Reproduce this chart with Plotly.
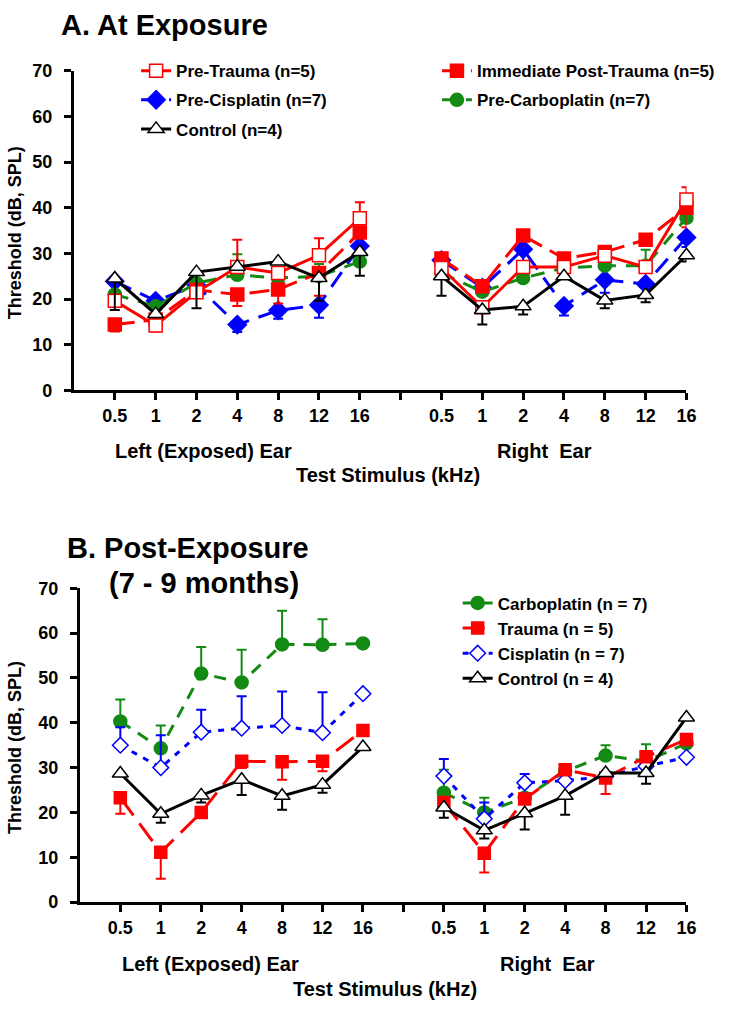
import plotly.graph_objects as go

# ---------------- data ----------------
freq_labels = ["0.5", "1", "2", "4", "8", "12", "16"]

# Panel A: At Exposure  (left ear values, right ear values)
a_pre_trauma_L = [19.6, 14.2, 21.5, 27.0, 25.7, 29.6, 37.7]
a_pre_trauma_R = [26.8, 18.2, 27.0, 27.0, 29.5, 27.0, 41.8]
a_pre_trauma_up_L = [0, 0, 0, 6.0, 0, 3.7, 3.5]
a_pre_trauma_up_R = [0, 0, 0, 0, 0, 0, 2.7]
a_pre_trauma_dn_L = [0, 0, 0, 0, 0, 0, 0]
a_pre_trauma_dn_R = [0, 0, 0, 0, 0, 0, 0]

a_imm_post_L = [14.4, 15.5, 22.0, 21.0, 22.1, 25.7, 34.6]
a_imm_post_R = [28.9, 22.8, 33.9, 28.9, 30.3, 33.0, 40.0]
a_imm_post_up_L = [0, 0, 0, 0, 0, 0, 0]
a_imm_post_up_R = [0, 0, 0, 0, 0, 0, 0]
a_imm_post_dn_L = [1.5, 2.6, 0, 2.5, 3.1, 5.0, 0]
a_imm_post_dn_R = [0, 0, 0, 0, 0, 0, 4.3]

a_pre_cis_L = [23.9, 19.6, 23.0, 14.4, 17.5, 18.7, 31.6]
a_pre_cis_R = [28.5, 22.5, 30.9, 18.5, 24.2, 23.3, 33.5]
a_pre_cis_up_L = [0, 0, 0, 0, 0, 0, 0]
a_pre_cis_up_R = [0, 0, 0, 0, 0, 0, 0]
a_pre_cis_dn_L = [0, 0, 0, 1.6, 1.8, 2.8, 0]
a_pre_cis_dn_R = [0, 0, 4.1, 2.1, 2.8, 0, 2.1]

a_pre_carbo_L = [21.0, 18.4, 23.5, 25.3, 24.6, 25.0, 28.2]
a_pre_carbo_R = [25.7, 21.6, 24.6, 26.8, 27.3, 27.3, 37.8]
a_pre_carbo_up_L = [0, 0, 0, 4.5, 0, 2.7, 0]
a_pre_carbo_up_R = [0, 0, 0, 0, 0, 3.5, 0]
a_pre_carbo_dn_L = [0, 0, 0, 0, 0, 0, 0]
a_pre_carbo_dn_R = [0, 0, 0, 0, 0, 0, 0]

a_control_L = [24.5, 16.7, 25.9, 27.1, 28.2, 24.6, 30.3]
a_control_R = [25.0, 17.6, 18.4, 25.0, 19.7, 20.9, 29.6]
a_control_up_L = [0, 0, 0, 0, 0, 0, 0]
a_control_up_R = [0, 0, 0, 0, 0, 0, 0]
a_control_dn_L = [6.9, 0, 7.9, 0, 0, 5.0, 5.2]
a_control_dn_R = [4.3, 3.2, 1.8, 0, 1.7, 1.6, 1.4]

# Panel B: Post-Exposure (7 - 9 months)
b_carbo_L = [40.3, 34.3, 51.0, 49.0, 57.5, 57.4, 57.7]
b_carbo_R = [24.4, 20.0, 23.3, 29.2, 32.7, 31.4, 35.4]
b_carbo_up_L = [4.9, 5.1, 5.9, 7.3, 7.5, 5.7, 0]
b_carbo_up_R = [5.1, 3.3, 0, 0, 2.3, 3.8, 0]
b_carbo_dn_L = [0, 0, 0, 0, 0, 0, 0]
b_carbo_dn_R = [0, 0, 0, 0, 0, 0, 0]

b_trauma_L = [23.3, 11.1, 20.0, 31.4, 31.3, 31.4, 38.3]
b_trauma_R = [22.2, 10.9, 23.0, 29.5, 27.7, 32.4, 36.3]
b_trauma_up_L = [0, 0, 0, 0, 0, 0, 0]
b_trauma_up_R = [0, 0, 0, 0, 0, 0, 0]
b_trauma_dn_L = [3.6, 5.9, 0, 1.5, 4.0, 2.2, 0]
b_trauma_dn_R = [0, 4.3, 0, 0, 3.6, 0, 0]

b_cis_L = [35.0, 30.0, 37.9, 38.8, 39.4, 37.8, 46.5]
b_cis_R = [28.1, 18.6, 26.6, 27.1, 28.0, 30.3, 32.3]
b_cis_up_L = [4.0, 7.2, 5.0, 7.1, 7.6, 9.0, 0]
b_cis_up_R = [3.8, 3.6, 2.0, 0, 0, 0, 0]
b_cis_dn_L = [0, 0, 0, 0, 0, 0, 0]
b_cis_dn_R = [0, 0, 0, 0, 0, 0, 0]

b_control_L = [28.7, 19.7, 23.8, 27.3, 23.7, 26.2, 34.6]
b_control_R = [21.1, 16.0, 19.8, 23.7, 28.8, 28.8, 41.2]
b_control_up_L = [0, 0, 0, 0, 0, 0, 0]
b_control_up_R = [0, 0, 0, 0, 0, 0, 0]
b_control_dn_L = [0, 2.0, 1.6, 3.4, 3.1, 1.8, 0]
b_control_dn_R = [2.3, 1.8, 3.6, 4.2, 0, 2.4, 0]

# ---------------- helpers ----------------
n = len(freq_labels)
x_left = list(range(1, n + 1))
x_right = list(range(n + 2, 2 * n + 2))
x_all = x_left + [None] + x_right
tick_vals = list(range(1, 2 * n + 2))
tick_text = freq_labels + [""] + freq_labels

RED = "#FF0000"
BLUE = "#0000FF"
GREEN = "#138A13"
BLACK = "#000000"
FONT = "Arial, Liberation Sans, sans-serif"


def join(l, r):
    return l + [None] + r


def series(name, L, R, upL, upR, dnL, dnR, color, dash, symbol, fill, size,
           xa, ya, legend, rank):
    return go.Scatter(
        x=x_all, y=join(L, R), name=name, mode="lines+markers",
        xaxis=xa, yaxis=ya, legend=legend, legendrank=rank, legendgroup=name,
        line=dict(color=color, width=3, dash=dash),
        marker=dict(symbol=symbol, size=size, color=fill,
                    line=dict(color=color, width=1.5)),
        error_y=dict(type="data", symmetric=False, array=join(upL, upR),
                     arrayminus=join(dnL, dnR), color=color, thickness=2,
                     width=5),
        cliponaxis=False, connectgaps=False, hoverinfo="x+y+name",
    )


fig = go.Figure()

# Panel A traces (draw order)
fig.add_trace(series("Pre-Cisplatin (n=7)", a_pre_cis_L, a_pre_cis_R,
                     a_pre_cis_up_L, a_pre_cis_up_R, a_pre_cis_dn_L, a_pre_cis_dn_R,
                     BLUE, "18px,10px", "diamond", BLUE, 14, "x", "y", "legend", 2))
fig.add_trace(series("Pre-Carboplatin (n=7)", a_pre_carbo_L, a_pre_carbo_R,
                     a_pre_carbo_up_L, a_pre_carbo_up_R, a_pre_carbo_dn_L, a_pre_carbo_dn_R,
                     GREEN, "14px,10px", "circle", GREEN, 13, "x", "y", "legend2", 2))
fig.add_trace(series("Immediate Post-Trauma (n=5)", a_imm_post_L, a_imm_post_R,
                     a_imm_post_up_L, a_imm_post_up_R, a_imm_post_dn_L, a_imm_post_dn_R,
                     RED, "20px,9px", "square", RED, 13, "x", "y", "legend2", 1))
fig.add_trace(series("Pre-Trauma (n=5)", a_pre_trauma_L, a_pre_trauma_R,
                     a_pre_trauma_up_L, a_pre_trauma_up_R, a_pre_trauma_dn_L, a_pre_trauma_dn_R,
                     RED, "solid", "square", "white", 13, "x", "y", "legend", 1))
fig.add_trace(series("Control (n=4)", a_control_L, a_control_R,
                     a_control_up_L, a_control_up_R, a_control_dn_L, a_control_dn_R,
                     BLACK, "solid", "triangle-up", "white", 14, "x", "y", "legend", 3))

# Panel B traces
fig.add_trace(series("Carboplatin (n = 7)", b_carbo_L, b_carbo_R,
                     b_carbo_up_L, b_carbo_up_R, b_carbo_dn_L, b_carbo_dn_R,
                     GREEN, "12px,9px", "circle", GREEN, 13, "x2", "y2", "legend3", 1))
fig.add_trace(series("Cisplatin (n = 7)", b_cis_L, b_cis_R,
                     b_cis_up_L, b_cis_up_R, b_cis_dn_L, b_cis_dn_R,
                     BLUE, "6px,7px", "diamond", "white", 12, "x2", "y2", "legend3", 3))
fig.add_trace(series("Trauma (n = 5)", b_trauma_L, b_trauma_R,
                     b_trauma_up_L, b_trauma_up_R, b_trauma_dn_L, b_trauma_dn_R,
                     RED, "22px,10px", "square", RED, 12, "x2", "y2", "legend3", 2))
fig.add_trace(series("Control (n = 4)", b_control_L, b_control_R,
                     b_control_up_L, b_control_up_R, b_control_dn_L, b_control_dn_R,
                     BLACK, "solid", "triangle-up", "white", 14, "x2", "y2", "legend3", 4))

W, H = 731, 1014


def px_x(p):
    return p / W


def px_y(p):
    return 1 - p / H


tickfont = dict(family=FONT, size=18, color="black", weight="bold")
common_x = dict(range=[0, 2 * n + 1], showline=True, linewidth=3, linecolor="black",
                ticks="outside", ticklen=7, tickwidth=3, tickcolor="black",
                tickvals=tick_vals, ticktext=tick_text, tickfont=tickfont,
                showgrid=False, zeroline=False, ticklabelstandoff=0, fixedrange=True)
common_y = dict(range=[0, 70], dtick=10, showline=True, linewidth=3, linecolor="black",
                ticks="outside", ticklen=7, tickwidth=3, tickcolor="black",
                tickfont=tickfont, showgrid=False, zeroline=False,
                ticklabelstandoff=8, fixedrange=True)

legend_common = dict(font=dict(family=FONT, size=17, color="black", weight="bold"),
                     bgcolor="rgba(0,0,0,0)", borderwidth=0,
                     xanchor="left", yanchor="top")

fig.update_layout(
    width=W, height=H, margin=dict(l=0, r=0, t=0, b=0),
    paper_bgcolor="white", plot_bgcolor="white",
    showlegend=True,
    xaxis=dict(domain=[px_x(75), px_x(696)], anchor="y", **common_x),
    yaxis=dict(domain=[px_y(388), px_y(62)], anchor="x", **common_y),
    xaxis2=dict(domain=[px_x(81), px_x(696)], anchor="y2", **common_x),
    yaxis2=dict(domain=[px_y(910), px_y(590)], anchor="x2", **common_y),
    legend=dict(x=px_x(138), y=px_y(44), traceorder="grouped", tracegroupgap=4,
                **legend_common),
    legend2=dict(x=px_x(443), y=px_y(44), traceorder="grouped", tracegroupgap=4,
                 **legend_common),
    legend3=dict(x=px_x(464), y=px_y(587), traceorder="normal", **legend_common),
)

lab = dict(family=FONT, size=20, color="black", weight="bold")
ttl = dict(family=FONT, size=29, color="black", weight="bold")
ann = [
    dict(text="A. At Exposure", x=px_x(60), y=px_y(15), xanchor="left", font=ttl),
    dict(text="B. Post-Exposure", x=px_x(66), y=px_y(549), xanchor="left", font=ttl),
    dict(text="(7 - 9 months)", x=px_x(108), y=px_y(585), xanchor="left", font=ttl),
    dict(text="Left (Exposed) Ear", x=px_x(206), y=px_y(450), font=lab),
    dict(text="Right\u00a0 Ear", x=px_x(552), y=px_y(450), font=lab),
    dict(text="Test Stimulus (kHz)", x=px_x(393), y=px_y(474), font=lab),
    dict(text="Left (Exposed) Ear", x=px_x(213), y=px_y(973), font=lab),
    dict(text="Right\u00a0 Ear", x=px_x(555), y=px_y(973), font=lab),
    dict(text="Test Stimulus (kHz)", x=px_x(390), y=px_y(999), font=lab),
    dict(text="Threshold (dB, SPL)", x=px_x(15), y=px_y(227), textangle=-90,
         font=dict(family=FONT, size=18, color="black", weight="bold")),
    dict(text="Threshold (dB, SPL)", x=px_x(15), y=px_y(752), textangle=-90,
         font=dict(family=FONT, size=18, color="black", weight="bold")),
]
for a in ann:
    a.setdefault("xanchor", "center")
    a.setdefault("yanchor", "middle")
    fig.add_annotation(xref="paper", yref="paper", showarrow=False, **a)

page_fix = (
    "var s=document.createElement('style');"
    "s.textContent='html,body{margin:0!important;padding:0!important;overflow:hidden!important;}"
    ".plotly-graph-div{position:absolute!important;left:0;top:0;}';"
    "document.head.appendChild(s);"
)

fig.write_html("out.html", config={"displayModeBar": False}, post_script=page_fix)
